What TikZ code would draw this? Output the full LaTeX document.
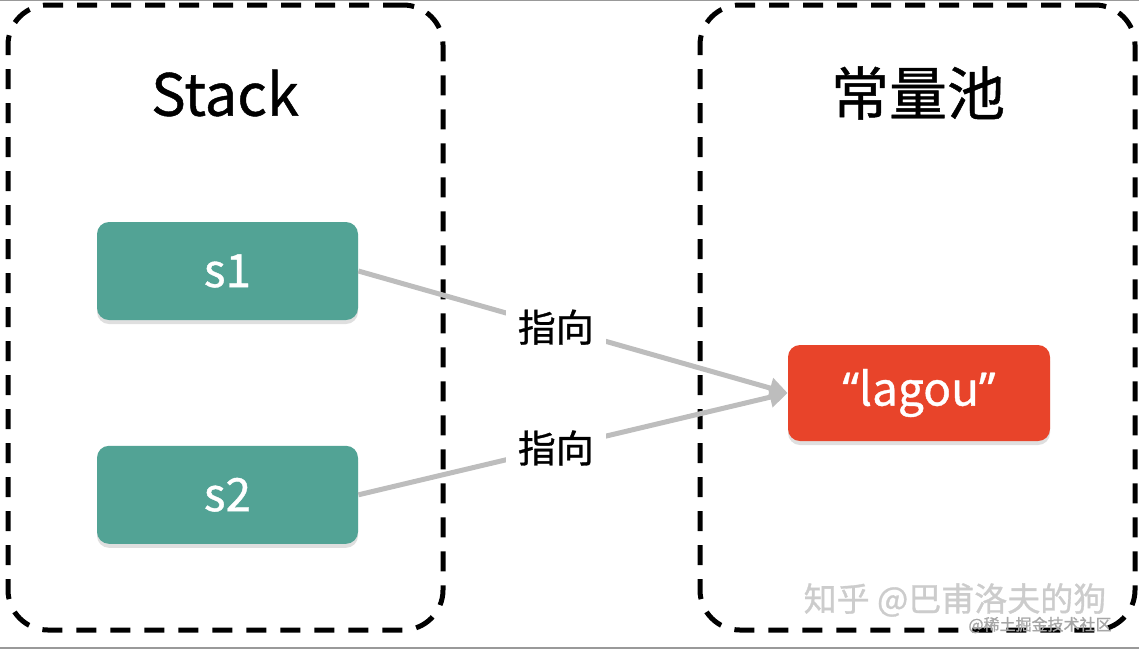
\documentclass[tikz,border=0pt]{standalone}
\usepackage{fontspec}
\setmainfont{Noto Sans CJK SC}[FakeBold=1]
\newfontfamily\medfont{Noto Sans CJK SC}[FakeBold=0.8]
\newfontfamily\quotefont{Noto Sans}[FakeBold=0.8]
\usetikzlibrary{arrows.meta,positioning,shadows}

\definecolor{varteal}{HTML}{52A395}
\definecolor{poolred}{HTML}{E8442A}
\definecolor{linkgray}{HTML}{BDBDBD}

\tikzset{
  frame/.style={draw, dashed, line width=2.5pt, dash pattern=on 10pt off 7pt,
    rounded corners=20pt, minimum width=217.5pt, minimum height=312.5pt},
  title/.style={font=\medfont\fontsize{29}{34}\selectfont},
  var/.style={fill=varteal, text=white, rounded corners=6pt,
    minimum width=130.5pt, minimum height=49pt, font=\medfont\fontsize{23}{28}\selectfont,
    drop shadow={opacity=0.25, shadow xshift=0pt, shadow yshift=-2pt}},
  literal/.style={var, fill=poolred, minimum width=131pt, minimum height=48pt},
  link/.style={draw=linkgray, line width=2.5pt, -{Triangle[length=9pt,width=10pt]}},
  linklabel/.style={fill=white, inner sep=6pt, font=\medfont\fontsize{19}{24}\selectfont}
}

\begin{document}
\begin{tikzpicture}[x=0.5pt,y=-0.5pt]
	\useasboundingbox (0,0) rectangle (1139,650);
	\draw[gray!80, line width=0.6pt] (0,0.6) -- (1139,0.6);
	\draw[gray!80, line width=1pt] (0,648) -- (1139,648);
		\node[frame] (stackframe) at (225.5,317.5) {};
		\node[frame] (poolframe) at (917.5,317.5) {};
		\node[title] (stacktitle) at (225,93) {Stack};
		\node[title] (pooltitle) at (918,93) {常量池};
		\node[var] (s_1) at (227.5,271) {s1};
		\node[var] [below=62.5pt of s_1] (s_2) {s2};
		\node[literal] (lagou) at (919,393) {{\quotefont “}lagou{\quotefont ”}};
		\path[link]
			(s_1.east) -- node[linklabel, pos=0.46] {指向} (lagou.west);
		\path[link]
			(s_2.east) -- node[linklabel, pos=0.46] {指向} (lagou.west);
		\node[text=gray!40, font=\fontsize{16.5}{20}\selectfont] (zhihu) at (955,600) {知乎 @巴甫洛夫的狗};
		\node[text=gray!70, font=\fontsize{8}{10}\selectfont] (juejin) at (1040,625) {@稀土掘金技术社区};
	\end{tikzpicture}
\end{document}
